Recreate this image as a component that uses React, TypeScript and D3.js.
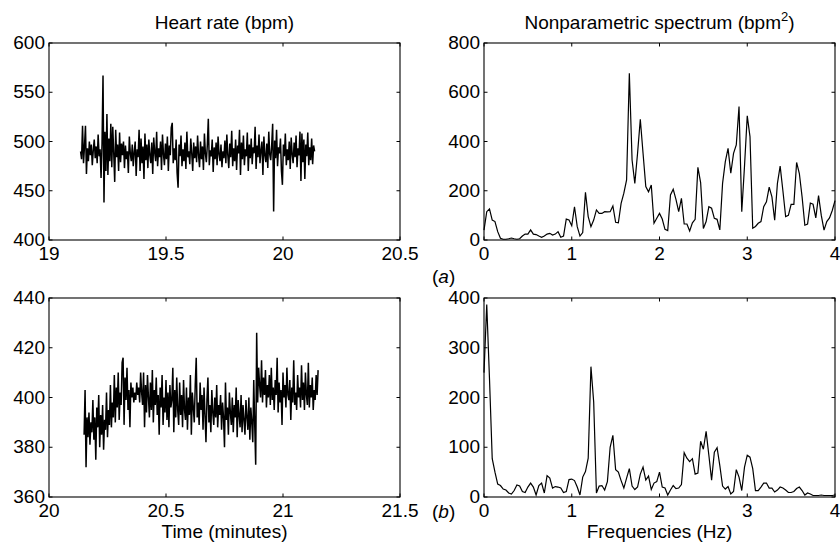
import React from "react";
import * as d3 from "d3";

// ---------- DATA ----------
// Heart-rate series (bpm), uniformly sampled over one minute
const HR_A_START = 19.135; // minutes
const HR_B_START = 20.15; // minutes
const HR_DURATION = 1; // minutes

const HR_A = [
  490, 482, 516, 478, 495, 516, 467, 493, 480, 500, 486, 497, 476, 491, 502, 483, 495, 478, 507, 485,
  492, 463, 498, 567, 438, 510, 470, 528, 466, 503, 480, 518, 474, 515, 488, 459, 512, 484, 497, 470,
  509, 479, 498, 486, 500, 473, 496, 482, 490, 468, 505, 488, 480, 497, 475, 489, 500, 465, 492, 484,
  512, 470, 503, 478, 495, 462, 508, 481, 497, 473, 502, 486, 478, 499, 467, 504, 489, 480, 510, 475,
  493, 484, 500, 471, 507, 487, 476, 498, 482, 505, 470, 496, 486, 514, 519, 478, 493, 481, 502, 468,
  453, 497, 485, 506, 475, 492, 480, 499, 472, 510, 484, 490, 477, 503, 488, 470, 499, 483, 495, 479,
  506, 486, 474, 500, 482, 495, 471, 508, 488, 479, 497, 523, 476, 491, 485, 502, 469, 494, 482, 499,
  476, 505, 487, 480, 497, 474, 490, 483, 501, 478, 507, 486, 473, 498, 484, 511, 475, 493, 480, 502,
  471, 496, 488, 512, 466, 499, 482, 506, 476, 492, 485, 509, 470, 497, 483, 503, 477, 494, 488, 515,
  472, 496, 484, 507, 478, 491, 500, 466, 505, 486, 479, 498, 473, 510, 487, 481, 496, 518, 429, 501,
  483, 512, 475, 494, 488, 503, 470, 456, 497, 485, 508, 476, 492, 481, 500, 472, 504, 487, 478, 499,
  484, 506, 474, 493, 486, 510, 460, 508, 479, 502, 462, 497, 485, 509, 476, 494, 481, 503, 477, 496, 490,
];

const HR_B = [
  385, 403, 372, 392, 384, 394, 381, 390, 386, 399, 383, 392, 375, 396, 388, 401, 380, 393, 385, 397,
  379, 391, 387, 402, 384, 395, 389, 405, 388, 398, 392, 409, 390, 404, 396, 410, 391, 402, 397, 414,
  416, 389, 408, 399, 412, 395, 403, 388, 406, 400, 404, 398, 402, 399, 406, 401, 404, 398, 410, 402,
  397, 410, 388, 405, 394, 409, 400, 392, 406, 395, 411, 390, 403, 397, 408, 393, 401, 385, 404, 396,
  409, 389, 400, 394, 407, 391, 402, 388, 405, 396, 399, 412, 386, 403, 392, 408, 395, 389, 406, 393,
  401, 388, 407, 395, 391, 404, 387, 400, 393, 409, 385, 402, 396, 390, 405, 416, 392, 398, 389, 406,
  395, 401, 387, 404, 393, 382, 399, 408, 390, 397, 386, 403, 394, 389, 400, 392, 405, 388, 397, 393,
  401, 387, 398, 392, 380, 406, 391, 396, 385, 402, 394, 389, 400, 386, 397, 392, 404, 384, 399, 393,
  388, 401, 386, 397, 391, 385, 399, 392, 387, 400, 383, 396, 390, 382, 407, 389, 373, 426, 398, 412,
  405, 400, 415, 398, 408, 401, 411, 396, 405, 400, 409, 397, 412, 399, 404, 395, 407, 401, 416, 394,
  406, 398, 403, 389, 410, 400, 405, 396, 412, 401, 399, 407, 391, 404, 398, 415, 397, 402, 395, 409,
  400, 404, 396, 413, 399, 406, 395, 410, 401, 397, 414, 396, 405, 400, 408, 395, 403, 399, 409, 401, 411,
];

// Nonparametric spectra (bpm^2), frequency step 1/32 Hz from 0 to 4 Hz
const SPEC_STEP = 1 / 32;

const SPEC_A = [
  40, 115, 126, 81, 75, 34, 7, 3, 3, 5, 8, 5, 3, 5, 16, 24,
  24, 41, 24, 22, 16, 11, 16, 24, 27, 20, 24, 34, 11, 16, 85, 81,
  58, 135, 54, 16, 30, 194, 95, 54, 81, 122, 108, 108, 115, 114, 115, 138,
  72, 70, 149, 190, 244, 677, 325, 230, 352, 490, 352, 217, 196, 223, 68, 88,
  108, 85, 43, 38, 183, 206, 165, 115, 169, 65, 65, 37, 70, 84, 295, 233,
  47, 75, 135, 129, 88, 84, 41, 230, 318, 372, 271, 352, 386, 542, 115, 300,
  504, 420, 48, 55, 68, 75, 135, 155, 215, 175, 80, 230, 300, 200, 95, 100,
  145, 145, 315, 270, 175, 60, 65, 150, 145, 90, 180, 100, 40, 75, 90, 120,
  160,
];

const SPEC_B = [
  250, 387, 238, 77, 50, 26, 23, 16, 14, 8, 6, 13, 24, 22, 11, 9,
  20, 28, 20, 4, 23, 28, 8, 43, 38, 18, 21, 20, 18, 9, 11, 35,
  36, 33, 20, 4, 40, 51, 78, 262, 191, 8, 22, 23, 14, 31, 100, 124,
  55, 50, 33, 18, 38, 57, 22, 15, 20, 46, 60, 34, 42, 15, 28, 31,
  50, 20, 18, 4, 14, 23, 17, 18, 25, 89, 78, 71, 77, 46, 48, 112,
  96, 132, 84, 34, 90, 99, 63, 22, 16, 21, 6, 11, 55, 40, 13, 60,
  84, 80, 57, 13, 13, 20, 28, 28, 18, 18, 10, 14, 20, 18, 14, 9,
  9, 11, 17, 20, 13, 4, 8, 6, 3, 3, 3, 4, 3, 3, 3, 3,
  4,
];

// Tick values / labels
const HR_A_XTICKS = [19, 19.5, 20, 20.5];
const HR_A_XLABELS = ["19", "19.5", "20", "20.5"];
const HR_A_YTICKS = [400, 450, 500, 550, 600];
const HR_B_XTICKS = [20, 20.5, 21, 21.5];
const HR_B_XLABELS = ["20", "20.5", "21", "21.5"];
const HR_B_YTICKS = [360, 380, 400, 420, 440];
const SPEC_XTICKS = [0, 1, 2, 3, 4];
const SPEC_A_YTICKS = [0, 200, 400, 600, 800];
const SPEC_B_YTICKS = [0, 100, 200, 300, 400];

// ---------- LAYOUT ----------
const FONT = "'Liberation Sans', Arial, Helvetica, sans-serif";
const FS = 19;
const TICK = 3.5;

type PanelProps = {
  x0: number; x1: number; y0: number; y1: number;
  xDomain: [number, number]; yDomain: [number, number];
  xTicks: number[]; xLabels: string[]; yTicks: number[];
  xs: number[]; ys: number[];
  xLabelBaseline: number;
  strokeWidth: number;
};

function Panel(p: PanelProps) {
  const xScale = d3.scaleLinear().domain(p.xDomain).range([p.x0, p.x1]);
  const yScale = d3.scaleLinear().domain(p.yDomain).range([p.y1, p.y0]);
  const line = d3
    .line<number>()
    .x((_, i) => xScale(p.xs[i]))
    .y((d) => yScale(d));
  const path = line(p.ys) || "";
  return (
    <g>
      <path d={path} fill="none" stroke="#000" strokeWidth={p.strokeWidth} strokeLinejoin="miter" />
      <rect x={p.x0} y={p.y0} width={p.x1 - p.x0} height={p.y1 - p.y0} fill="none" stroke="#000" strokeWidth={1.1} />
      {p.xTicks.map((t, i) => {
        const x = xScale(t);
        return (
          <g key={"x" + i}>
            <line x1={x} x2={x} y1={p.y1} y2={p.y1 - TICK} stroke="#000" strokeWidth={1} />
            <line x1={x} x2={x} y1={p.y0} y2={p.y0 + TICK} stroke="#000" strokeWidth={1} />
            <text x={x} y={p.xLabelBaseline} textAnchor="middle" fontSize={FS} fontFamily={FONT} fill="#000">
              {p.xLabels[i]}
            </text>
          </g>
        );
      })}
      {p.yTicks.map((t, i) => {
        const y = yScale(t);
        return (
          <g key={"y" + i}>
            <line x1={p.x0} x2={p.x0 + TICK} y1={y} y2={y} stroke="#000" strokeWidth={1} />
            <line x1={p.x1} x2={p.x1 - TICK} y1={y} y2={y} stroke="#000" strokeWidth={1} />
            <text x={p.x0 - 4} y={y + 6} textAnchor="end" fontSize={FS} fontFamily={FONT} fill="#000">
              {String(t)}
            </text>
          </g>
        );
      })}
    </g>
  );
}

export default function App() {
  const hrTimesA = HR_A.map((_, i) => HR_A_START + (i * HR_DURATION) / (HR_A.length - 1));
  const hrTimesB = HR_B.map((_, i) => HR_B_START + (i * HR_DURATION) / (HR_B.length - 1));
  const freqA = SPEC_A.map((_, i) => i * SPEC_STEP);
  const freqB = SPEC_B.map((_, i) => i * SPEC_STEP);

  const L0 = 49, L1 = 400, R0 = 484, R1 = 835;
  const T0 = 43, T1 = 240, B0 = 298, B1 = 497;

  return (
    <svg width={840} height={543} style={{ position: "absolute", left: 0, top: 0, background: "#fff" }}>
      <rect x={0} y={0} width={840} height={543} fill="#fff" />
      <text x={(L0 + L1) / 2} y={29} textAnchor="middle" fontSize={FS} fontFamily={FONT}>
        Heart rate (bpm)
      </text>
      <text x={(R0 + R1) / 2} y={29} textAnchor="middle" fontSize={FS} fontFamily={FONT}>
        Nonparametric spectrum (bpm
        <tspan fontSize={13} dy={-8}>2</tspan>
        <tspan dy={8}>)</tspan>
      </text>

      <Panel x0={L0} x1={L1} y0={T0} y1={T1} xDomain={[19, 20.5]} yDomain={[400, 600]}
        xTicks={HR_A_XTICKS} xLabels={HR_A_XLABELS} yTicks={HR_A_YTICKS}
        xs={hrTimesA} ys={HR_A} xLabelBaseline={260} strokeWidth={1.5} />
      <Panel x0={R0} x1={R1} y0={T0} y1={T1} xDomain={[0, 4]} yDomain={[0, 800]}
        xTicks={SPEC_XTICKS} xLabels={SPEC_XTICKS.map(String)} yTicks={SPEC_A_YTICKS}
        xs={freqA} ys={SPEC_A} xLabelBaseline={260} strokeWidth={1.2} />
      <Panel x0={L0} x1={L1} y0={B0} y1={B1} xDomain={[20, 21.5]} yDomain={[360, 440]}
        xTicks={HR_B_XTICKS} xLabels={HR_B_XLABELS} yTicks={HR_B_YTICKS}
        xs={hrTimesB} ys={HR_B} xLabelBaseline={517} strokeWidth={1.5} />
      <Panel x0={R0} x1={R1} y0={B0} y1={B1} xDomain={[0, 4]} yDomain={[0, 400]}
        xTicks={SPEC_XTICKS} xLabels={SPEC_XTICKS.map(String)} yTicks={SPEC_B_YTICKS}
        xs={freqB} ys={SPEC_B} xLabelBaseline={517} strokeWidth={1.2} />

      <text x={432} y={283} fontSize={FS} fontFamily={FONT}>
        (<tspan fontStyle="italic">a</tspan>)
      </text>
      <text x={432} y={518} fontSize={FS} fontFamily={FONT}>
        (<tspan fontStyle="italic">b</tspan>)
      </text>
      <text x={(L0 + L1) / 2} y={538} textAnchor="middle" fontSize={FS} fontFamily={FONT}>
        Time (minutes)
      </text>
      <text x={(R0 + R1) / 2} y={538} textAnchor="middle" fontSize={FS} fontFamily={FONT}>
        Frequencies (Hz)
      </text>
    </svg>
  );
}
